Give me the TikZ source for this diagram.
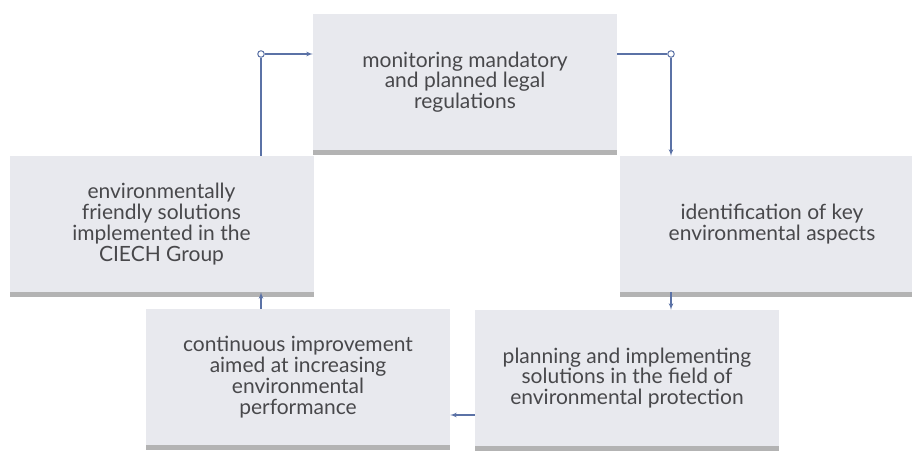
\documentclass[tikz,border=0pt]{standalone}
\usepackage{fontspec}
\setmainfont{Lato}
\usepackage{tikz}
\usetikzlibrary{arrows,positioning,shadows}
\definecolor{boxgray}{HTML}{E8E9EE}
\definecolor{txtgray}{HTML}{48484B}
\definecolor{lineblue}{HTML}{5B72A6}
\tikzset{
block/.style = {fill=boxgray, rectangle, align=center, text=txtgray,
  minimum width=304pt, minimum height=136pt, inner sep=0pt,
  font=\fontsize{21}{20.8}\selectfont,
  drop shadow={shadow xshift=0pt, shadow yshift=-5pt, opacity=.4, fill=black!75}},
conn/.style = {draw=lineblue, line width=1.2pt},
dot/.style = {draw=lineblue, fill=white, circle, line width=1pt, inner sep=0pt, minimum size=6.5pt}
}
\begin{document}
\begin{tikzpicture}[x=1pt, y=1pt, >=latex']
  \useasboundingbox (0,0) rectangle (912,456);
  \node [block] (monitor) at (465,374) {monitoring mandatory\\and planned legal\\regulations};
  \node [block] (envf) at (161.5,232) {environmentally\\friendly solutions\\implemented in the\\CIECH Group};
  \node [block] (ident) at (772,232) {identification of key\\environmental aspects};
  \node [block] (cont) at (298,79) {continuous improvement\\aimed at increasing\\environmental\\performance};
  \node [block] (plan) at (627,78) {planning and implementing\\solutions in the field of\\environmental protection};
  % corners
  \node [dot] (c1) at (261,402) {};
  \node [dot] (c2) at (671,402) {};
  \coordinate (p) at (475,41);
  % connectors
  \draw [conn] (envf.north -| c1) -- (c1.south);
  \draw [conn,->] (c1.east) -- (monitor.west |- c1);
  \draw [conn] (monitor.east |- c2) -- (c2.west);
  \draw [conn,->] (c2.south) -- (ident.north -| c2);
  \draw [conn,->] (ident.south -| c2) -- (plan.north -| c2);
  \draw [conn,->] (plan.west |- p) -- (cont.east |- p);
  \draw [conn,->] (cont.north -| c1) -- (envf.south -| c1);
\end{tikzpicture}
\end{document}
